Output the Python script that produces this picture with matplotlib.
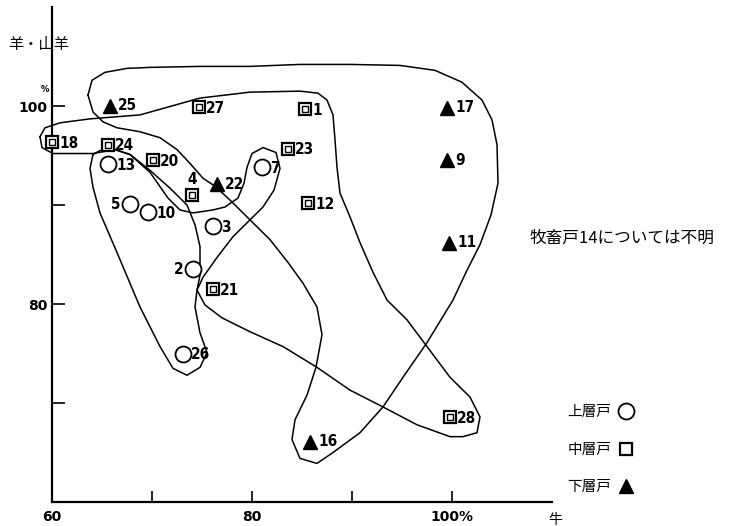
import matplotlib
matplotlib.use("Agg")
import matplotlib.pyplot as plt

plt.rcParams['font.family'] = ['DejaVu Sans', 'Noto Sans CJK JP']
JP = ['Noto Sans CJK JP', 'DejaVu Sans']

# 上層戸 (circles)
up_lab = ['13', '5', '10', '3', '7', '2', '26']
up_x = [65.6, 67.8, 69.6, 76.1, 81.0, 74.1, 73.1]
up_y = [94.1, 90.1, 89.3, 87.9, 93.8, 83.5, 75.0]

# 中層戸 (squares)
mid_lab = ['18', '24', '20', '27', '4', '21', '1', '23', '12', '28']
mid_x = [60.0, 65.6, 70.1, 74.7, 74.0, 76.1, 85.3, 83.6, 85.6, 99.8]
mid_y = [96.4, 96.1, 94.5, 99.9, 91.0, 81.5, 99.7, 95.7, 90.2, 68.6]

# 下層戸 (triangles)
low_lab = ['25', '22', '17', '9', '11', '16']
low_x = [65.8, 76.5, 99.5, 99.5, 99.7, 85.8]
low_y = [100.0, 92.1, 99.8, 94.5, 86.2, 66.1]

# group outlines (hand drawn in the original)
low_cx = [63.6, 64.0, 65.3, 67.5, 69.8, 74.8, 79.8, 84.8, 89.8, 94.8, 98.3, 101.0,
          103.0, 104.0, 104.5, 104.6, 103.9, 102.8, 101.4, 100.1, 97.5, 95.1, 93.1,
          90.8, 88.1, 86.5, 84.8, 84.0, 84.3, 85.5, 86.4, 87.0, 86.5, 85.1, 83.6,
          81.8, 79.5, 77.8, 76.3, 75.1, 73.8, 72.5, 70.8, 68.8, 66.5, 65.1, 64.1, 63.6]
low_cy = [101.1, 102.6, 103.4, 103.8, 103.9, 104.0, 104.0, 104.2, 104.2, 104.1, 103.6,
          102.4, 100.6, 98.6, 96.1, 92.2, 89.0, 86.0, 83.2, 80.4, 76.1, 72.6, 69.6,
          67.0, 65.0, 63.9, 64.4, 66.3, 68.3, 70.8, 73.6, 76.9, 79.7, 82.1, 84.2,
          86.5, 88.8, 90.5, 91.9, 92.7, 94.2, 95.6, 96.8, 97.4, 97.8, 98.4, 99.4, 101.1]

mid_cx = [58.8, 59.3, 60.8, 63.8, 68.8, 74.8, 79.8, 84.8, 86.6, 87.5, 88.1, 88.3, 88.5,
          88.8, 89.8, 90.8, 92.1, 93.5, 95.5, 97.5, 99.8, 101.8, 102.8, 102.5, 101.1,
          99.8, 96.5, 93.1, 89.8, 86.5, 83.1, 79.8, 77.0, 75.3, 74.5, 74.8, 74.8, 74.3,
          73.5, 71.8, 69.8, 67.8, 66.3, 64.1, 60.1, 59.0, 58.8]
mid_cy = [96.9, 97.8, 98.3, 98.7, 99.1, 100.8, 101.4, 101.5, 101.3, 100.6, 99.1, 96.6,
          93.8, 91.2, 88.8, 86.2, 83.2, 80.4, 78.4, 75.7, 72.6, 70.6, 68.6, 67.0, 66.6,
          66.6, 67.8, 69.6, 71.3, 73.6, 75.7, 77.2, 78.6, 79.9, 81.4, 82.9, 85.8, 88.0,
          90.0, 91.7, 93.5, 95.1, 95.6, 95.2, 95.2, 95.8, 96.9]

up_cx = [64.1, 63.8, 64.1, 64.8, 66.5, 68.8, 70.8, 72.1, 73.5, 74.8, 75.5, 74.8, 74.3,
         74.5, 75.1, 76.5, 78.1, 79.6, 81.1, 82.2, 82.8, 82.4, 81.1, 80.0, 79.5, 79.2,
         78.6, 77.3, 76.1, 74.1, 72.8, 71.6, 69.8, 67.8, 66.3, 64.8, 64.1]
up_cy = [95.1, 93.7, 91.8, 89.2, 85.2, 79.7, 75.7, 73.5, 72.8, 73.6, 75.1, 77.1, 79.7,
         81.4, 82.7, 84.7, 86.8, 88.3, 89.8, 91.5, 93.7, 95.3, 95.8, 95.2, 93.8, 92.2,
         90.7, 89.8, 89.5, 89.2, 89.5, 90.7, 93.3, 95.1, 95.6, 95.5, 95.1]

fig = plt.figure(figsize=(7.33, 5.26), dpi=100)
ax = fig.add_axes([52 / 733, 24 / 526, 500 / 733, 495 / 526])
ax.set_xlim(60, 110)
ax.set_ylim(60, 110)

for cx, cy in [(low_cx, low_cy), (mid_cx, mid_cy), (up_cx, up_cy)]:
    ax.plot(cx, cy, color='black', lw=1.1, zorder=2, clip_on=False)

hu, = ax.plot(up_x, up_y, 'o', ms=11.5, mfc='white', mec='black', mew=1.3,
              ls='none', zorder=4, clip_on=False, label='上層戸')
hm, = ax.plot(mid_x, mid_y, 's', ms=8.5, mfc='white', mec='black', mew=1.6,
              ls='none', zorder=4, clip_on=False, label='中層戸')
ax.plot(mid_x, mid_y, 's', ms=4, mfc='none', mec='black', mew=1.0,
        ls='none', zorder=5, clip_on=False)
hl, = ax.plot(low_x, low_y, '^', ms=10, color='black', ls='none',
              zorder=4, clip_on=False, label='下層戸')

lab_kw = dict(fontsize=11, fontweight='bold', fontstretch='condensed',
              textcoords='offset points', va='center', zorder=6)
for lab, x, y in zip(up_lab, up_x, up_y):
    if lab in ('5', '2'):
        ax.annotate(lab, (x, y), xytext=(-7, 0), ha='right', **lab_kw)
    else:
        ax.annotate(lab, (x, y), xytext=(6, -1), ha='left', **lab_kw)
for lab, x, y in zip(mid_lab, mid_x, mid_y):
    if lab == '4':
        ax.annotate(lab, (x, y), xytext=(0, 11), ha='center', **lab_kw)
    else:
        ax.annotate(lab, (x, y), xytext=(5, -1), ha='left', **lab_kw)
for lab, x, y in zip(low_lab, low_x, low_y):
    ax.annotate(lab, (x, y), xytext=(6, 0), ha='left', **lab_kw)

ax.spines['top'].set_visible(False)
ax.spines['right'].set_visible(False)
ax.spines['left'].set_linewidth(1.6)
ax.spines['bottom'].set_linewidth(1.6)

ax.set_xticks([60, 70, 80, 90, 100])
ax.set_xticklabels(['60', '', '80', '', '100%'])
ax.set_yticks([70, 80, 90, 100])
ax.set_yticklabels(['', '80', '', '100'])
ax.tick_params(axis='x', direction='in', length=8, width=1.2, pad=6)
ax.tick_params(axis='y', direction='in', length=9, width=1.2, pad=3)
for t in ax.get_xticklabels() + ax.get_yticklabels():
    t.set_fontweight('bold')
    t.set_fontsize(10)

fig.text(45 / 733, 1 - 92 / 526, '%', fontsize=6, fontweight='bold', ha='center')
fig.text(8 / 733, 1 - 45 / 526, '羊・山羊', family=JP, fontsize=11, va='center')
fig.text(548 / 733, 1 - 520 / 526, '牛', family=JP, fontsize=10, va='center')
fig.text(530 / 733, 1 - 238 / 526, '牧畜戸14については不明', family=JP,
         fontsize=12, va='center')

ax.legend(handles=[hu, hm, hl], markerfirst=False, frameon=False,
          prop={'family': JP, 'size': 10.5}, labelspacing=1.6,
          handlelength=0.8, handletextpad=0.6, borderpad=0,
          loc='upper left', bbox_to_anchor=(560 / 733, 1 - 398 / 526),
          bbox_transform=fig.transFigure)

fig.savefig('out.png', dpi=100)
